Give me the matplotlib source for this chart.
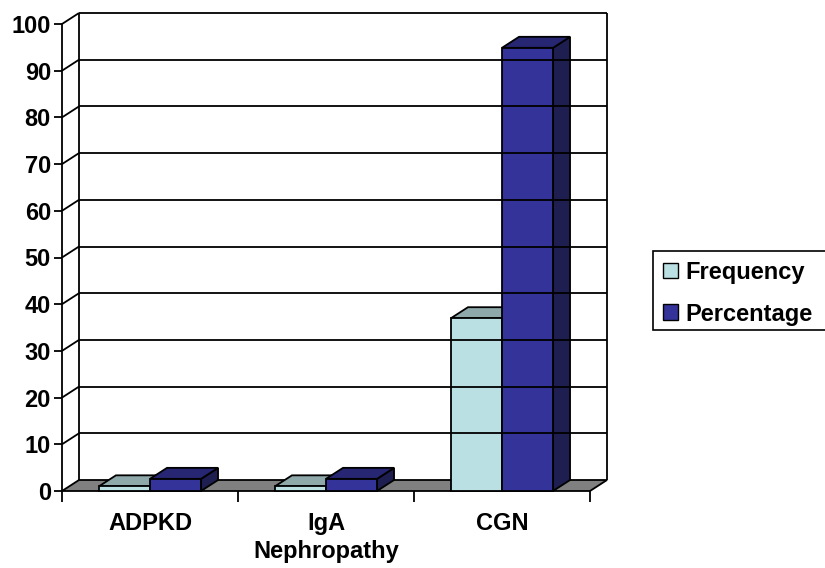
import matplotlib
matplotlib.use("Agg")
import matplotlib.pyplot as plt
from matplotlib.patches import Polygon, Patch, Rectangle

plt.rcParams['font.family'] = ['Liberation Sans', 'DejaVu Sans']
plt.rcParams['font.weight'] = 'bold'

categories = ["ADPKD", "IgA\nNephropathy", "CGN"]
frequency = [1, 1, 37]
percentage = [2.6, 2.6, 94.9]
series_names = ["Frequency", "Percentage"]
y_ticks = list(range(0, 101, 10))

# colours: front, top, side
freq_cols = ("#bbe0e3", "#8fa9ab", "#7c9396")
pct_cols = ("#333399", "#262673", "#1e1e50")
floor_col = "#808080"

W, H = 825, 568
fig = plt.figure(figsize=(W / 100, H / 100), dpi=100)
ax = fig.add_axes([62 / W, (H - 491) / H, (590 - 62) / W, (491 - 24) / H])
ax.set_xlim(0, 3)
ax.set_ylim(0, 100)

# depth of the 3-D box in data units
dx = 17 / 176
dy = 11 / 4.67
lw = 1.3

def poly(pts, fc):
    ax.add_patch(Polygon(pts, closed=True, facecolor=fc, edgecolor="black",
                         lw=lw, clip_on=False, joinstyle="miter"))

def line(xs, ys):
    ax.plot(xs, ys, color="black", lw=lw, clip_on=False, solid_capstyle="butt")

# back wall and left wall grid
for v in y_ticks[1:]:
    line([dx, 3 + dx], [v + dy, v + dy])
    line([0, dx], [v, v + dy])
line([dx, dx], [dy, 100 + dy])
line([3 + dx, 3 + dx], [dy, 100 + dy])

# floor
poly([(0, 0), (3, 0), (3 + dx, dy), (dx, dy)], floor_col)

def bar3d(x0, w, h, cols):
    front, top, side = cols
    poly([(x0 + w, 0), (x0 + w + dx, dy), (x0 + w + dx, h + dy), (x0 + w, h)], side)
    poly([(x0, h), (x0 + w, h), (x0 + w + dx, h + dy), (x0 + dx, h + dy)], top)
    poly([(x0, 0), (x0 + w, 0), (x0 + w, h), (x0, h)], front)

bw = 0.29
start = 0.21
for i in range(len(categories)):
    bar3d(i + start, bw, frequency[i], freq_cols)
    bar3d(i + start + bw, bw, percentage[i], pct_cols)

# axes
for s in ["top", "right", "bottom"]:
    ax.spines[s].set_visible(False)
ax.spines["left"].set_linewidth(lw)
ax.set_yticks(y_ticks)
ax.tick_params(axis="y", direction="out", length=6, width=lw, labelsize=17, pad=2)
ax.set_xticks([0, 1, 2, 3])
ax.set_xticks([0.5, 1.5, 2.5], minor=True)
ax.set_xticklabels([])
ax.set_xticklabels(categories, minor=True)
ax.tick_params(axis="x", which="major", direction="out", length=8, width=lw)
ax.tick_params(axis="x", which="minor", length=0, labelsize=17, pad=15)
for lab in ax.get_yticklabels() + ax.get_xticklabels(minor=True):
    lab.set_fontweight("bold")
for lab in ax.get_xticklabels(minor=True):
    lab.set_linespacing(1.3)

# legend box runs off the right edge of the figure
fig.patches.append(Rectangle((653 / W, 1 - 330 / H), 200 / W, 79 / H,
                             transform=fig.transFigure, facecolor="white",
                             edgecolor="black", lw=1.2, zorder=1))
handles = [Patch(facecolor=freq_cols[0], edgecolor="black", lw=1),
           Patch(facecolor=pct_cols[0], edgecolor="black", lw=1)]
leg = fig.legend(handles, series_names, loc="upper left",
                 bbox_to_anchor=(658 / W, 1 - 256 / H), frameon=False,
                 handlelength=0.65, handleheight=0.65,
                 handletextpad=0.3, borderpad=0.2, borderaxespad=0,
                 labelspacing=0.8, prop={"weight": "bold", "size": 17})

fig.savefig("out.png", dpi=100)
